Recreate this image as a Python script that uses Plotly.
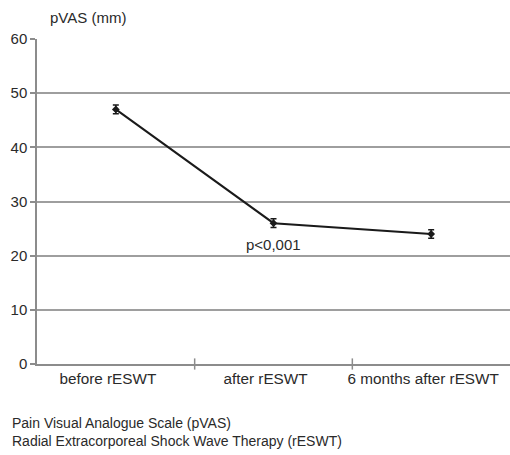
import plotly.graph_objects as go

categories = ["before rESWT", "after rESWT", "6 months after rESWT"]
pvas_mean = [47, 26, 24]
pvas_err = [0.8, 0.8, 0.8]
y_ticks = [0, 10, 20, 30, 40, 50, 60]
p_label = "p<0,001"
footnotes = ["Pain Visual Analogue Scale (pVAS)", "Radial Extracorporeal Shock Wave Therapy (rESWT)"]

FONT = "Liberation Sans, Arial, sans-serif"
TXT = "#2a2a2a"

fig = go.Figure()
fig.add_trace(go.Scatter(
    x=list(range(len(categories))), y=pvas_mean,
    mode="lines+markers",
    line=dict(color="#1a1a1a", width=2),
    marker=dict(color="#1a1a1a", size=6, symbol="diamond"),
    error_y=dict(type="data", array=pvas_err, color="#1a1a1a", thickness=1.5, width=3),
    showlegend=False,
))

fig.add_annotation(x=1, y=pvas_mean[1] - 4, xref="x", yref="y", text=p_label,
                   showarrow=False, xanchor="center", yanchor="middle",
                   font=dict(size=15, color=TXT, family=FONT))

fig.add_annotation(xref="x domain", yref="y domain", x=0.023, y=1.0, yshift=22,
                   text="pVAS (mm)", showarrow=False,
                   xanchor="left", yanchor="middle",
                   font=dict(size=15, color=TXT, family=FONT))

fig.add_annotation(x=0, y=0, xref="paper", yref="paper",
                   text="<br>".join(footnotes), showarrow=False,
                   xanchor="left", yanchor="top", align="left",
                   xshift=-27, yshift=-49,
                   font=dict(size=14, color=TXT, family=FONT))

fig.update_layout(
    width=510, height=455,
    margin=dict(l=37, r=0, t=39, b=91),
    paper_bgcolor="white", plot_bgcolor="white",
    font=dict(family=FONT, size=15, color=TXT),
    xaxis=dict(
        tickmode="array", tickvals=list(range(len(categories))), ticktext=categories,
        range=[-0.5, 2.5], showgrid=False, zeroline=False,
        showline=True, linecolor="#8c8c8c", linewidth=1.5,
        ticks="", tickfont=dict(size=15.3, color=TXT),
        ticklabelshift=-8,
    ),
    yaxis=dict(
        tickmode="array", tickvals=y_ticks, range=[0, 60],
        showgrid=True, gridcolor="#9e9e9e", gridwidth=1.5, zeroline=False,
        showline=True, linecolor="#8c8c8c", linewidth=1.5,
        ticks="outside", ticklen=5, tickcolor="#8c8c8c", tickwidth=1.5,
        tickfont=dict(size=15, color=TXT),
    ),
)

# category boundary ticks on x axis
fig.add_trace(go.Scatter(x=[0.5, 1.5], y=[0, 0], mode="markers",
                         marker=dict(symbol="line-ns", size=8, line=dict(color="#8c8c8c", width=1.5)),
                         showlegend=False, hoverinfo="skip", cliponaxis=False))

fig.write_html("out.html")
